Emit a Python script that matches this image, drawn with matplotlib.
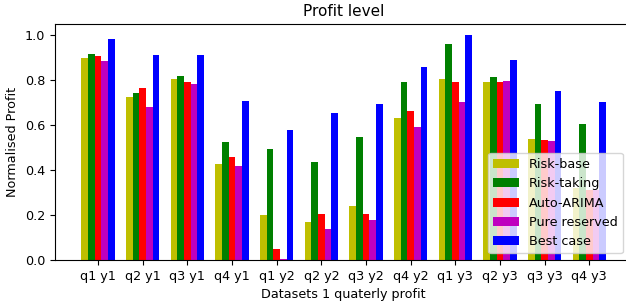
import numpy as np
import matplotlib
matplotlib.use('Agg')
import matplotlib.pyplot as plt

quarters = ['q1 y1', 'q2 y1', 'q3 y1', 'q4 y1', 'q1 y2', 'q2 y2',
            'q3 y2', 'q4 y2', 'q1 y3', 'q2 y3', 'q3 y3', 'q4 y3']

risk_base = [0.898, 0.724, 0.804, 0.427, 0.200, 0.169, 0.240, 0.631, 0.804, 0.791, 0.538, 0.320]
risk_taking = [0.916, 0.742, 0.818, 0.524, 0.493, 0.436, 0.547, 0.791, 0.960, 0.813, 0.693, 0.604]
auto_arima = [0.907, 0.764, 0.791, 0.458, 0.049, 0.204, 0.204, 0.662, 0.791, 0.791, 0.533, 0.309]
pure_reserved = [0.884, 0.680, 0.782, 0.418, 0.004, 0.138, 0.178, 0.591, 0.702, 0.796, 0.529, 0.313]
best_case = [0.982, 0.911, 0.911, 0.707, 0.578, 0.653, 0.693, 0.858, 1.000, 0.889, 0.751, 0.702]

series = [('Risk-base', risk_base, 'y'),
          ('Risk-taking', risk_taking, 'g'),
          ('Auto-ARIMA', auto_arima, 'r'),
          ('Pure reserved', pure_reserved, 'm'),
          ('Best case', best_case, 'b')]

plt.rcParams['font.size'] = 9.2

fig, ax = plt.subplots(figsize=(6.26, 3.05), dpi=100)
fig.subplots_adjust(left=0.088, right=1.01, bottom=0.148, top=0.921)

x = np.arange(len(quarters))
width = 0.15
for i, (name, vals, col) in enumerate(series):
    ax.bar(x + (i - 2) * width, vals, width, color=col, label=name)

ax.set_xticks(x)
ax.set_xticklabels(quarters)
ax.set_xlabel('Datasets 1 quaterly profit')
ax.set_ylabel('Normalised Profit')
ax.set_title('Profit level', fontsize=11)
ax.legend(loc='lower right', bbox_to_anchor=(0.995, 0.0))

fig.savefig('out.png', dpi=100)
